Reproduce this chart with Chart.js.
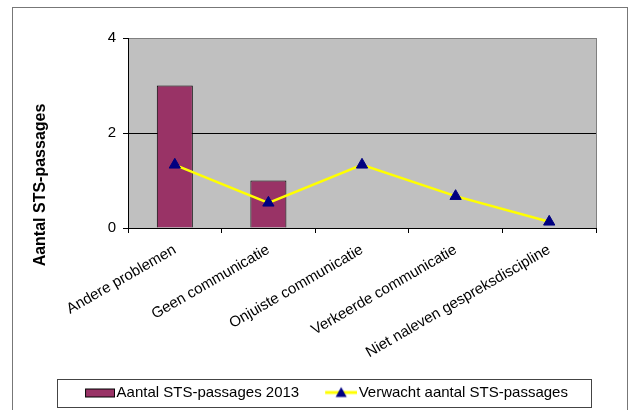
<!DOCTYPE html>
<html>
<head>
<meta charset="utf-8">
<script src="https://cdn.jsdelivr.net/npm/chart.js@4"></script>
<style>
  html, body { margin: 0; padding: 0; background: #fff; }
  #wrap { width: 629px; height: 410px; }
</style>
</head>
<body>
<div id="wrap"><canvas id="myChart" width="629" height="410"></canvas></div>
<script>
var categories = [
  "Andere problemen",
  "Geen communicatie",
  "Onjuiste communicatie",
  "Verkeerde communicatie",
  "Niet naleven gespreksdiscipline"
];
var passages2013 = [3, 1, 0, 0, 0];
var verwacht = [1.33, 0.53, 1.33, 0.67, 0.13];
var yTicks = [0, 2, 4];

var FONT = "'Liberation Sans', Arial, sans-serif";

// legend swatches: wider than the legend box so the symbol sits close to its text
function makeSwatch(kind) {
  var c = document.createElement("canvas");
  c.width = 54;
  c.height = 14;
  var g = c.getContext("2d");
  if (kind === "bar") {
    g.fillStyle = "#993366";
    g.fillRect(24, 3, 30, 8);
    g.strokeStyle = "#000";
    g.lineWidth = 1;
    g.strokeRect(24.5, 3.5, 29, 8);
  } else {
    g.strokeStyle = "#FFFF00";
    g.lineWidth = 3;
    g.beginPath();
    g.moveTo(22, 7);
    g.lineTo(54, 7);
    g.stroke();
    g.fillStyle = "#000080";
    g.beginPath();
    g.moveTo(38, 1.5);
    g.lineTo(43.5, 11.5);
    g.lineTo(32.5, 11.5);
    g.closePath();
    g.fill();
  }
  return c;
}
var swatches = [makeSwatch("bar"), makeSwatch("line")];

var decor = {
  id: "decor",
  beforeDraw: function (chart) {
    var ctx = chart.ctx;
    var a = chart.chartArea;
    ctx.save();
    ctx.fillStyle = "#fff";
    ctx.fillRect(0, 0, chart.width, chart.height);
    ctx.strokeStyle = "#777";
    ctx.lineWidth = 1;
    ctx.strokeRect(12.5, 7.5, 615, 420);
    ctx.fillStyle = "#C0C0C0";
    ctx.fillRect(a.left, a.top, a.right - a.left, a.bottom - a.top);
    ctx.strokeStyle = "#808080";
    ctx.strokeRect(a.left + 0.5, a.top + 0.5, a.right - a.left, a.bottom - a.top);
    ctx.restore();
  },
  afterDraw: function (chart) {
    var ctx = chart.ctx;
    ctx.save();
    // y axis title
    ctx.translate(41, 185);
    ctx.rotate(-Math.PI / 2);
    ctx.font = "bold 16px " + FONT;
    ctx.fillStyle = "#000";
    ctx.textAlign = "center";
    ctx.textBaseline = "middle";
    ctx.fillText("Aantal STS-passages", 0, 0);
    ctx.restore();
    // legend frame
    var boxes = chart.legend.legendHitBoxes;
    if (boxes && boxes.length) {
      var first = boxes[0], last = boxes[boxes.length - 1];
      var cy = first.top + first.height / 2;
      var x0 = Math.round(first.left + 17.5 - 28);
      var x1 = Math.round(last.left + last.width + 23);
      ctx.save();
      ctx.strokeStyle = "#444";
      ctx.lineWidth = 1;
      ctx.strokeRect(x0 + 0.5, Math.round(cy - 14) + 0.5, x1 - x0, 28);
      ctx.restore();
    }
  }
};

var ctx = document.getElementById("myChart").getContext("2d");
var myChart = new Chart(ctx, {
  type: "bar",
  data: {
    labels: categories,
    datasets: [
      {
        label: "Aantal STS-passages 2013",
        data: passages2013,
        backgroundColor: "#993366",
        borderColor: "#000",
        borderWidth: 1,
        barPercentage: 0.385,
        categoryPercentage: 1,
        order: 1
      },
      {
        type: "line",
        label: "Verwacht aantal STS-passages",
        data: verwacht,
        borderColor: "#FFFF00",
        borderWidth: 2.5,
        pointStyle: "triangle",
        pointRadius: 6.5,
        pointBackgroundColor: "#000080",
        pointBorderColor: "#000080",
        pointBorderWidth: 1,
        tension: 0,
        order: 0
      }
    ]
  },
  options: {
    responsive: false,
    animation: false,
    layout: { padding: { left: 6, top: 38, right: 0, bottom: 0 } },
    plugins: {
      tooltip: { enabled: false },
      legend: {
        position: "bottom",
        labels: {
          usePointStyle: true,
          pointStyleWidth: 42,
          boxHeight: 14,
          padding: 10,
          color: "#000",
          font: { family: FONT, size: 15 },
          generateLabels: function (chart) {
            return chart.data.datasets.map(function (ds, i) {
              return {
                text: ds.label,
                pointStyle: swatches[i],
                datasetIndex: i,
                fontColor: "#000",
                fillStyle: "rgba(0,0,0,0)",
                strokeStyle: "rgba(0,0,0,0)",
                lineWidth: 0,
                hidden: false
              };
            });
          }
        }
      }
    },
    scales: {
      x: {
        afterFit: function (scale) { scale.height = 147; },
        grid: { drawOnChartArea: false, tickColor: "#000", tickLength: 5, offset: true },
        border: { color: "#000", width: 1 },
        ticks: {
          color: "#000",
          font: { family: FONT, size: 15 },
          minRotation: 30,
          maxRotation: 30,
          autoSkip: false,
          padding: 8
        }
      },
      y: {
        min: 0,
        max: 4,
        afterFit: function (scale) { scale.width = 122; },
        afterBuildTicks: function (scale) {
          scale.ticks = yTicks.map(function (v) { return { value: v }; });
        },
        grid: {
          color: function (c) { return c.tick && c.tick.value === 2 ? "#000" : "rgba(0,0,0,0)"; },
          tickColor: "#000",
          tickLength: 5
        },
        border: { color: "#000", width: 1 },
        ticks: {
          color: "#000",
          font: { family: FONT, size: 15 },
          padding: 7
        }
      },
      // empty right-hand spacer so the plot ends where the reference does
      yRight: {
        position: "right",
        afterFit: function (scale) { scale.width = 33; },
        grid: { display: false },
        border: { display: false },
        ticks: { display: false }
      }
    }
  },
  plugins: [decor]
});
</script>
</body>
</html>
